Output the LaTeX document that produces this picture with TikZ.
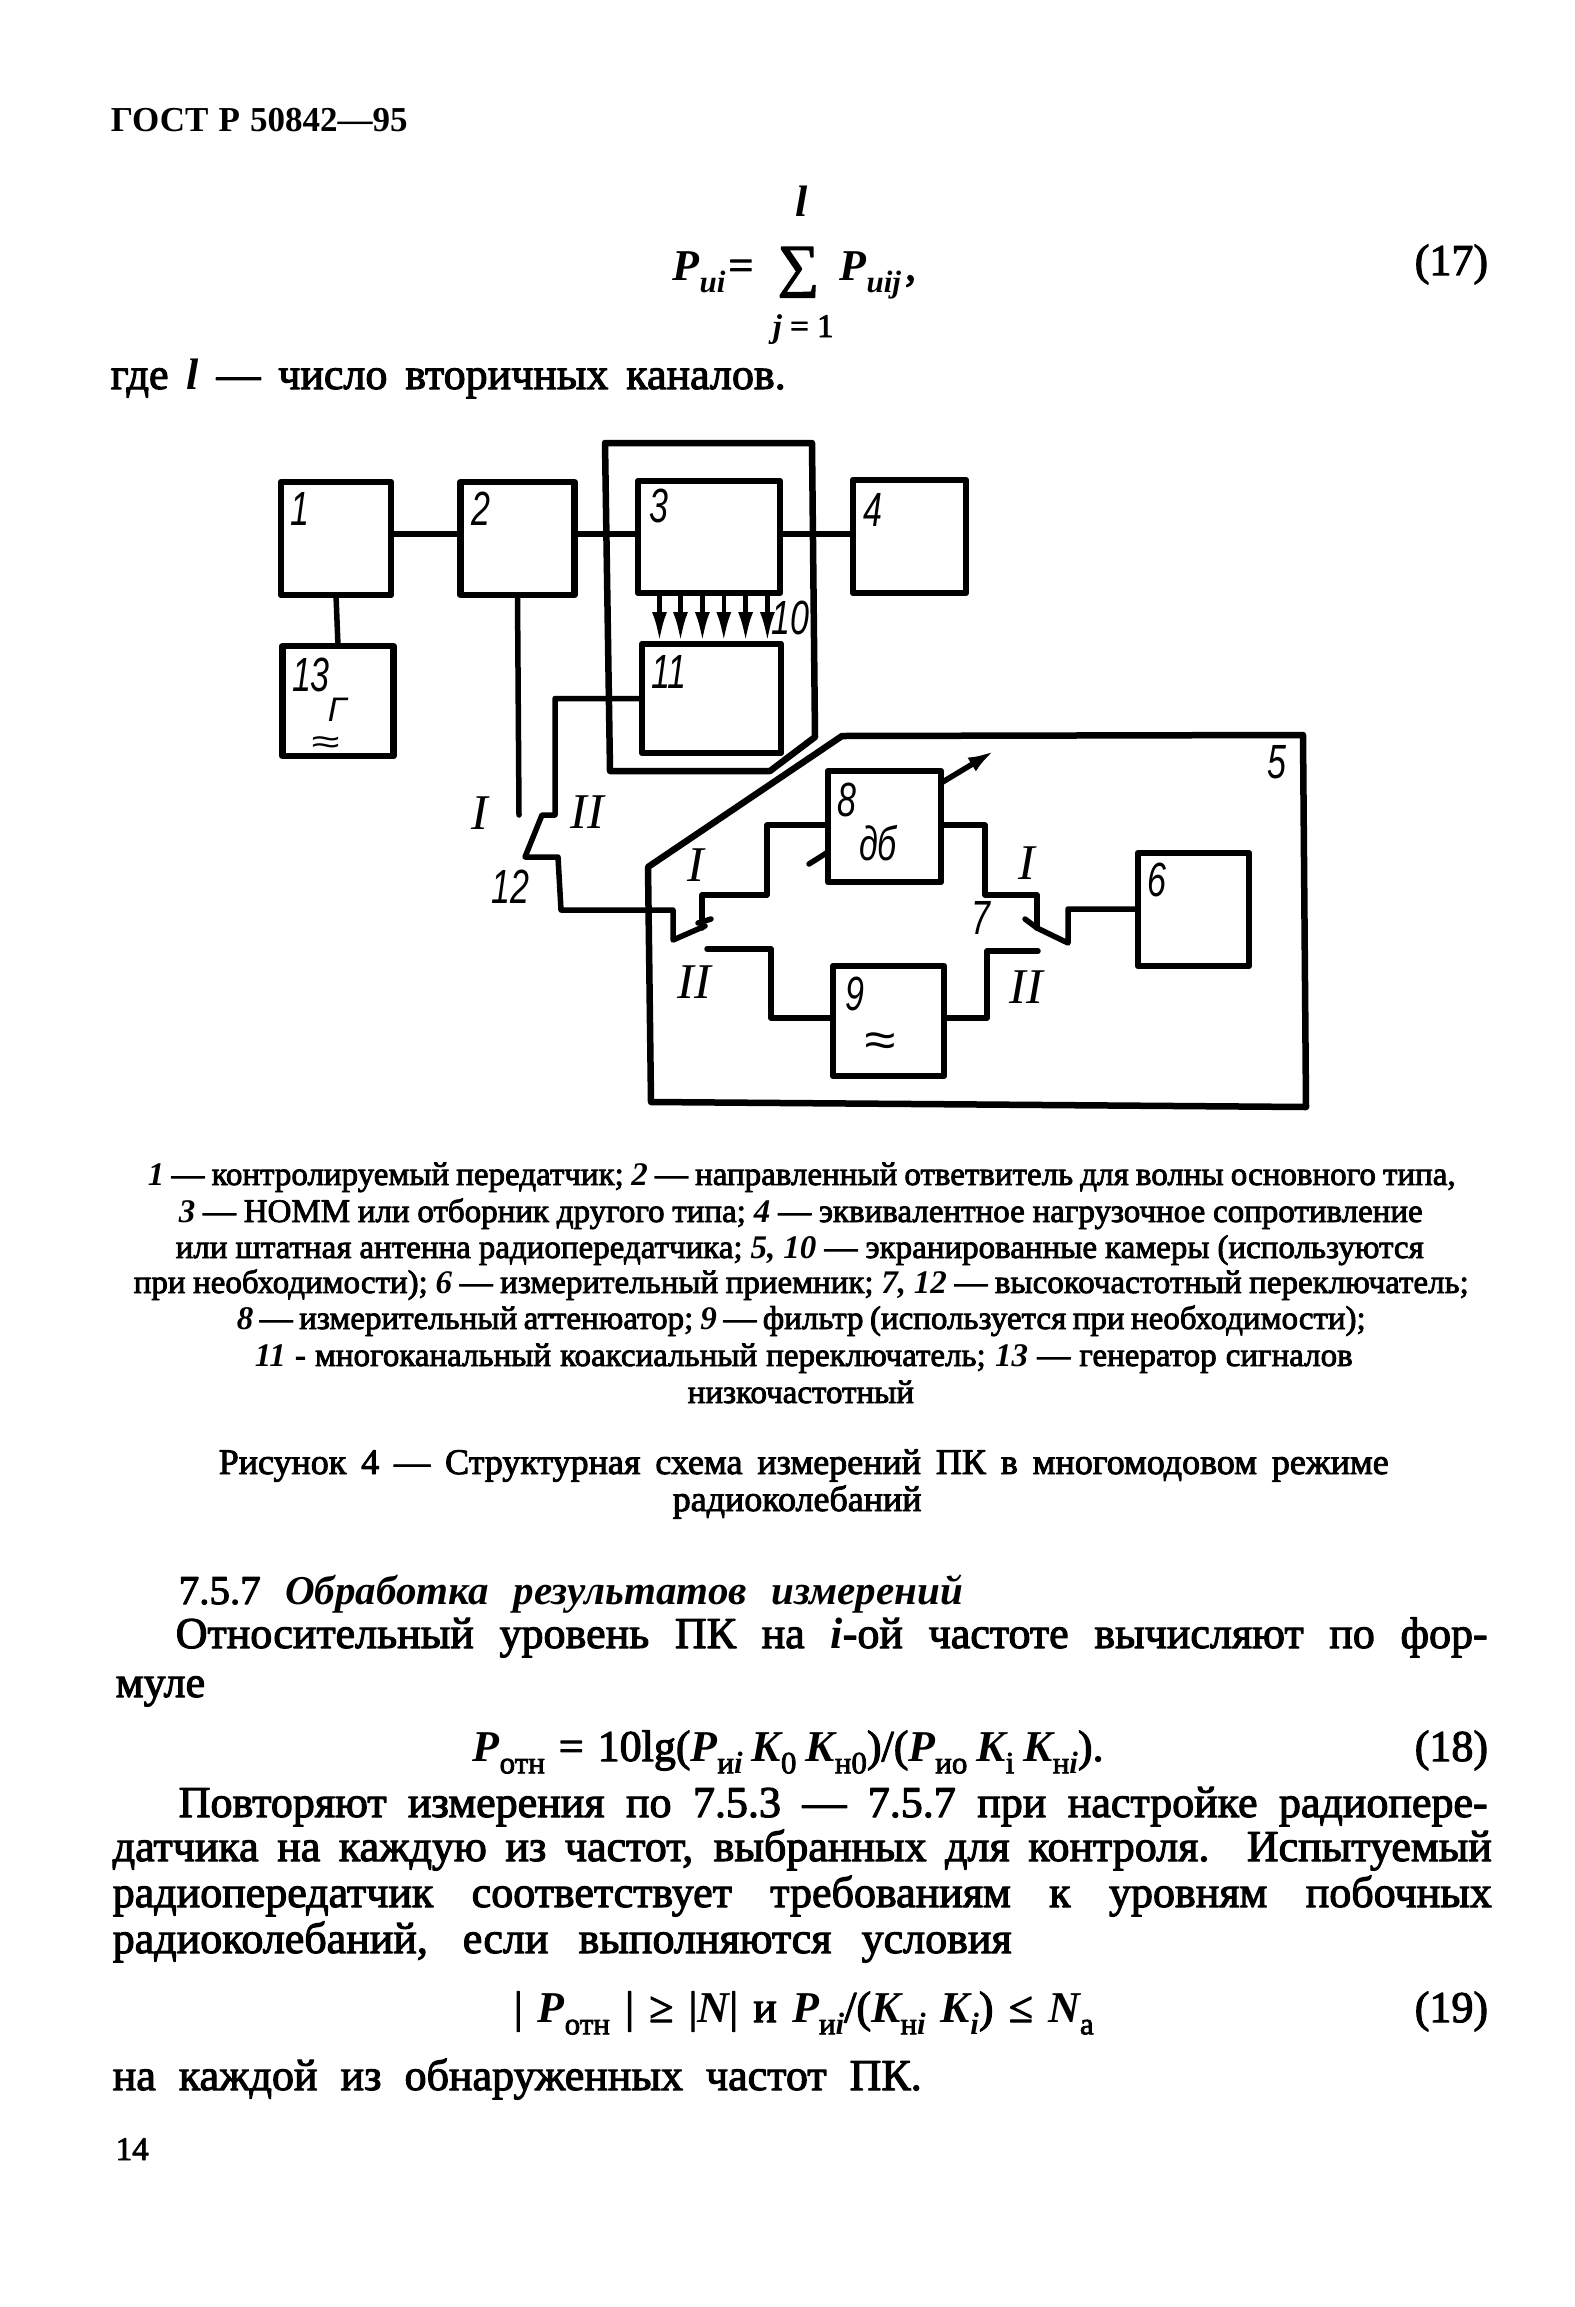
\documentclass[tikz,border=0pt]{standalone}
\usepackage{fontspec}
\usetikzlibrary{arrows.meta}
\setmainfont{Liberation Serif}[AutoFakeBold=2.5]
\newfontfamily\strongfont{Liberation Serif}
\newfontfamily\schemefont{Liberation Sans}[AutoFakeBold=1.5]
\newcommand{\fitline}[2]{\hbox to #1pt{#2}}
\newcommand{\mi}[1]{{\strongfont\bfseries\itshape #1}}
\newcommand{\lowsub}[1]{\raisebox{-0.28em}{\fontsize{31}{31}\selectfont #1}}
\newcommand{\tallnum}[1]{\scalebox{0.85}[1.2]{#1}}
\tikzset{
    block/.style={draw,line width=6.5pt,inner sep=0pt,outer sep=0pt},
    numlabel/.style={inner sep=0pt,font=\schemefont\bfseries\itshape\fontsize{40}{40}\selectfont},
    romanlabel/.style={inner sep=0pt,font=\strongfont\itshape\fontsize{50}{50}\selectfont},
    bodyline/.style={anchor=base west,inner sep=0pt,font=\bfseries\fontsize{44}{44}\selectfont},
    noteline/.style={anchor=base west,inner sep=0pt,font=\bfseries\fontsize{33}{33}\selectfont},
    capline/.style={anchor=base west,inner sep=0pt,font=\bfseries\fontsize{36}{36}\selectfont}
}
\begin{document}
\begin{tikzpicture}[
    x=1pt,y=-1pt,
    line cap=round,line join=round,line width=5.5pt
]
    \useasboundingbox (0,0) rectangle (1574,2307);
    % blocks
    \node[block,minimum width=110pt,minimum height=113pt] (b1) at (336,538.5) {};
    \node[block,minimum width=114pt,minimum height=113pt] (b2) at (517.5,538.5) {};
    \node[block,minimum width=142pt,minimum height=112pt] (b3) at (709,537) {};
    \node[block,minimum width=113pt,minimum height=113pt] (b4) at (909.5,536.5) {};
    \node[block,minimum width=111pt,minimum height=110pt] (b13) at (338,701) {};
    \node[block,minimum width=139pt,minimum height=109pt] (b11) at (711.5,698.5) {};
    \node[block,minimum width=113pt,minimum height=111pt] (b8) at (884.5,826.5) {};
    \node[block,minimum width=111pt,minimum height=110pt] (b9) at (888.5,1021) {};
    \node[block,minimum width=111pt,minimum height=113pt] (b6) at (1193.5,909.5) {};
    % chambers
    \draw[line width=6.5pt] (605,443) -- (812,443) -- (815,737) -- (770,771) -- (610,771) -- cycle;
    \draw[line width=6.5pt] (842,736) -- (1303,735) -- (1306,1107) -- (651,1102) -- (648,867) -- cycle;
    % wires
    \coordinate (tap) at (0,534);
    \draw (b1.east|-tap) -- (b2.west|-tap);
    \draw (b2.east|-tap) -- (b3.west|-tap);
    \draw (b3.east|-tap) -- (b4.west|-tap);
    \draw (b1.south) -- (b13.north);
    \foreach \ax in {659.5,680.5,702.4,723.8,745.6,767.4}
        \draw[-{Latex[length=30pt,width=15pt]},line width=4.5pt] (\ax,593) -- (\ax,642);
    % switch 12
    \coordinate (s12a) at (519,815);
    \coordinate (s12b) at (555,815);
    \coordinate (s12c) at (542,815);
    \coordinate (s12d) at (525,857);
    \coordinate (s12e) at (673,910);
    \coordinate (s12f) at (673,940);
    \coordinate (s12g) at (705,926);
    \draw (b2.south) -- (s12a);
    \draw (b11.west) -| (s12b) -- (s12c) -- (s12d) -- (558,857) -- (561,910) -- (s12e) -- (s12f) -- (s12g);
    % switch 7
    \coordinate (s7a) at (702,928);
    \coordinate (s7b) at (707,949);
    \coordinate (s7c) at (1038,951);
    \coordinate (s7d) at (1037,928);
    \coordinate (s7e) at (1025,919);
    \coordinate (s7f) at (1068,943);
    \draw (s7a) -- (702,895) -- (767,895) -- (767,825) -- (b8.west|-0,825);
    \draw (698,923) -- (711,919);
    \draw (s7b) -- (771,949) -- (771,1018) -- (b9.west|-0,1018);
    \draw (b8.east|-0,825) -- (985,825) -- (985,895) -- (1037,895) -- (s7d);
    \draw (b9.east|-0,1018) -- (987,1018) -- (987,951) -- (s7c);
    \draw (s7e) -- (s7d) -- (s7f) -- (1068,909) -- (b6.west|-0,909);
    % attenuator control
    \coordinate (ctla) at (994,751);
    \coordinate (ctlb) at (809,864);
    \draw[-{Latex[length=26pt,width=16pt]}] (b8.east|-0,783) -- (ctla);
    \draw (b8.west|-0,852) -- (ctlb);
    % scheme labels
    \node[numlabel] (n1) at (300,509) {\tallnum{1}};
    \node[numlabel] (n2) at (481,509) {\tallnum{2}};
    \node[numlabel] (n3) at (659,506) {\tallnum{3}};
    \node[numlabel] (n4) at (873,510) {\tallnum{4}};
    \node[numlabel] (n5) at (1277,762) {\tallnum{5}};
    \node[numlabel] (n6) at (1157,880) {\tallnum{6}};
    \node[numlabel] (n7) at (981,918) {\tallnum{7}};
    \node[numlabel] (n8) at (847,800) {\tallnum{8}};
    \node[numlabel] (n9) at (855,994) {\tallnum{9}};
    \node[numlabel] (n10) at (790,618) {\tallnum{10}};
    \node[numlabel] (n11) at (669,672) {\tallnum{11}};
    \node[numlabel] (n12) at (510,887) {\tallnum{12}};
    \node[numlabel] (n13) at (311,675) {\tallnum{13}};
    \node[numlabel,font=\schemefont\bfseries\itshape\fontsize{34}{34}\selectfont] (gen) at (337,710) {Г};
    \node[numlabel,font=\schemefont\bfseries\itshape\fontsize{34}{34}\selectfont] (genw) at (325,745) {\scalebox{1.5}[1]{≈}};
    \node[numlabel] (db) at (878,843) {\tallnum{дб}};
    \node[numlabel] (filt) at (880,1045) {\scalebox{1.4}[1.2]{≈}};
    \node[romanlabel] (ra) at (480,813) {I};
    \node[romanlabel] (rb) at (587,812) {II};
    \node[romanlabel] (rc) at (696,865) {I};
    \node[romanlabel] (rd) at (694,982) {II};
    \node[romanlabel] (re) at (1027,863) {I};
    \node[romanlabel] (rf) at (1026,987) {II};
    % page text
    \node[anchor=base west,inner sep=0pt,font=\strongfont\bfseries\fontsize{35}{35}\selectfont] (head) at (108,131) {\fitline{297}{ГОСТ Р 50842—95}};
    \node[bodyline] (suml) at (793,216) {\mi{l}};
    \node[bodyline] (eqa) at (670,280) {\mi{P}\lowsub{\mi{иi}}\kern3pt=};
    \node[bodyline,font=\bfseries\fontsize{58}{58}\selectfont] (eqs) at (775,285) {∑};
    \node[bodyline] (eqb) at (837,280) {\mi{P}\lowsub{\mi{иij}}\kern4pt,};
    \node[noteline] (sumj) at (770,337) {\mi{j} = 1};
    \node[bodyline] (no17) at (1412,275) {(17)};
    \node[bodyline] (where) at (108,389) {\fitline{675}{где \mi{l} — число вторичных каналов.}};
    \node[noteline] (nta) at (145,1185) {\fitline{1308}{\mi{1} — контролируемый передатчик; \mi{2} — направленный ответвитель для волны основного типа,}};
    \node[noteline] (ntb) at (176,1222) {\fitline{1244}{\mi{3} — НОММ или отборник другого типа; \mi{4} — эквивалентное нагрузочное сопротивление}};
    \node[noteline] (ntc) at (173,1258) {\fitline{1248}{или штатная антенна радиопередатчика; \mi{5, 10} — экранированные камеры (используются}};
    \node[noteline] (ntd) at (131,1293) {\fitline{1335}{при необходимости); \mi{6} — измерительный приемник; \mi{7, 12} — высокочастотный переключатель;}};
    \node[noteline] (nte) at (234,1329) {\fitline{1129}{\mi{8} — измерительный аттенюатор; \mi{9} — фильтр (используется при необходимости);}};
    \node[noteline] (ntf) at (252,1366) {\fitline{1098}{\mi{11} - многоканальный коаксиальный переключатель; \mi{13} — генератор сигналов}};
    \node[noteline] (ntg) at (685,1403) {\fitline{227}{низкочастотный}};
    \node[capline] (figa) at (216,1474) {\fitline{1170}{Рисунок 4 — Структурная схема измерений ПК в многомодовом режиме}};
    \node[capline] (figb) at (670,1511) {\fitline{259}{радиоколебаний}};
    \node[bodyline,font=\bfseries\fontsize{41}{41}\selectfont] (sect) at (176,1604) {\fitline{784}{7.5.7 \mi{Обработка результатов измерений}}};
    \node[bodyline] (pa) at (173,1648) {\fitline{1312}{Относительный уровень ПК на \mi{i}-ой частоте вычисляют по фор-}};
    \node[bodyline] (pb) at (113,1697) {муле};
    \node[bodyline] (eqc) at (470,1761) {\mi{P}\lowsub{отн}\kern14pt=\kern14pt 10lg(\mi{P}\lowsub{и\mi{i}}\kern9pt\mi{K}\lowsub{0}\kern9pt\mi{K}\lowsub{н0})/(\mi{P}\lowsub{ио}\kern9pt\mi{K}\lowsub{i}\kern9pt\mi{K}\lowsub{н\mi{i}}).};
    \node[bodyline] (no18) at (1412,1761) {(18)};
    \node[bodyline] (pc) at (176,1817) {\fitline{1309}{Повторяют измерения по 7.5.3 — 7.5.7 при настройке радиопере-}};
    \node[bodyline] (pd) at (110,1861) {\fitline{1379}{датчика на каждую из частот, выбранных для контроля. Испытуемый}};
    \node[bodyline] (pe) at (110,1907) {\fitline{1379}{радиопередатчик соответствует требованиям к уровням побочных}};
    \node[bodyline] (pf) at (110,1953) {\fitline{899}{радиоколебаний, если выполняются условия}};
    \node[bodyline] (eqd) at (511,2022) {\fitline{580}{| \mi{P}\lowsub{отн} | ≥ |\mi{N}| и \mi{P}\lowsub{и\mi{i}}/(\mi{K}\lowsub{н\mi{i}} \mi{K}\lowsub{\mi{i}}) ≤ \mi{N}\lowsub{а}}};
    \node[bodyline] (no19) at (1412,2022) {(19)};
    \node[bodyline] (pg) at (110,2090) {\fitline{809}{на каждой из обнаруженных частот ПК.}};
    \node[noteline] (folio) at (113,2160) {14};
\end{tikzpicture}
\end{document}
